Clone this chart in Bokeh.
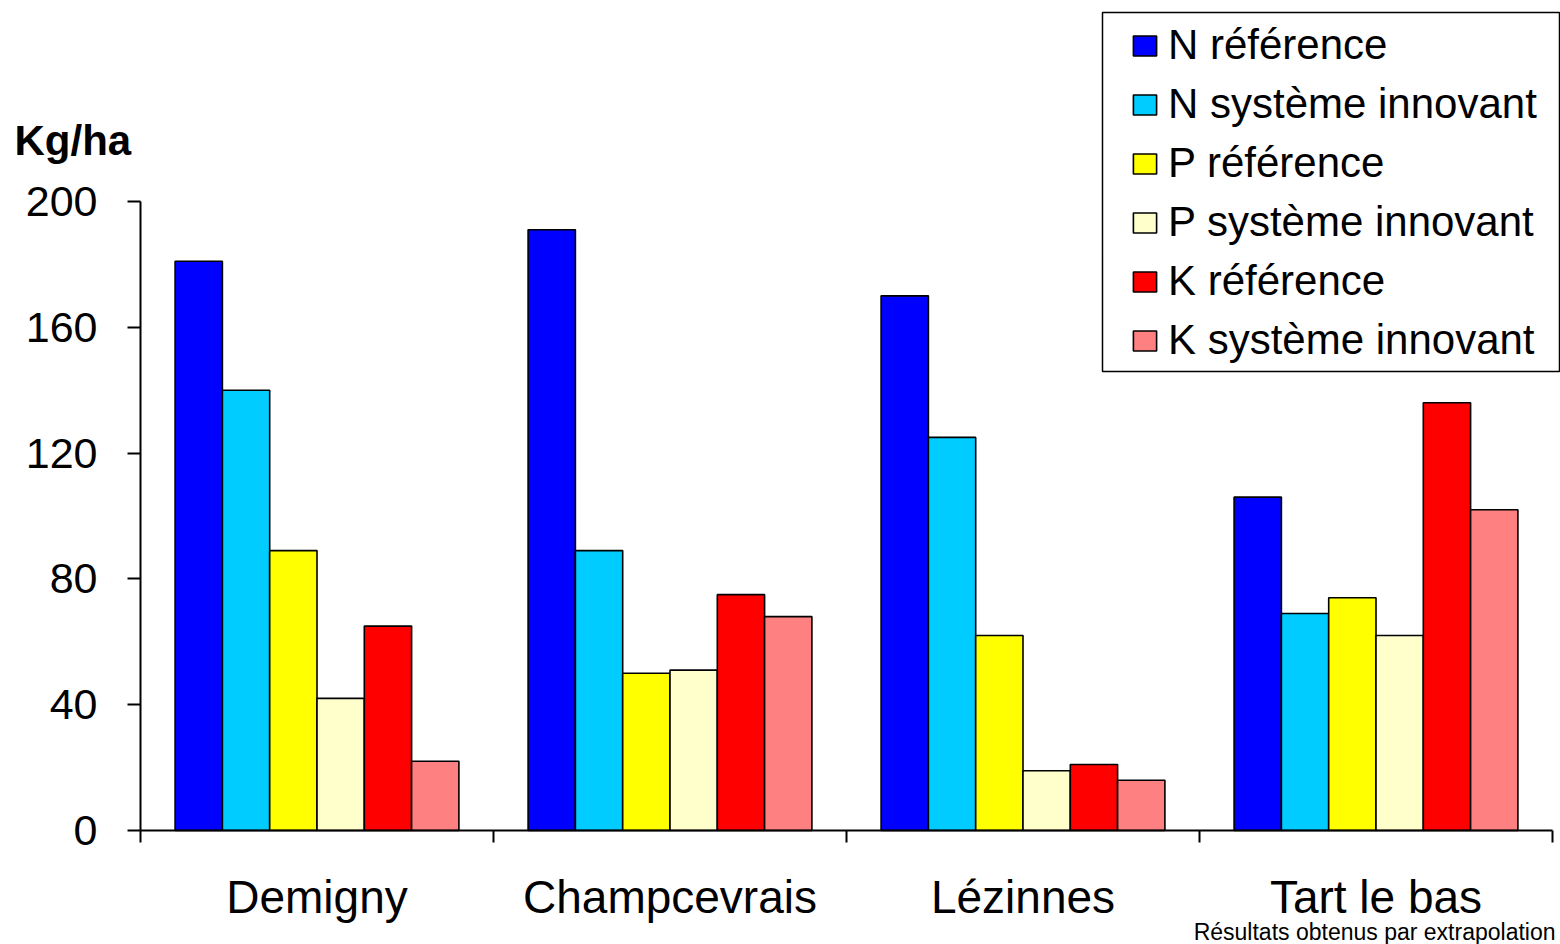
from bokeh.plotting import figure
from bokeh.models import Range1d, FixedTicker, Label, Legend, LegendItem, BoxAnnotation, ColumnDataSource
from bokeh.transform import dodge
from bokeh.embed import file_html
from bokeh.resources import INLINE

sites = ["Demigny", "Champcevrais", "Lézinnes", "Tart le bas"]
series_labels = ["N référence", "N système innovant", "P référence",
                 "P système innovant", "K référence", "K système innovant"]
n_ref = [181, 191, 170, 106]
n_inn = [140, 89, 125, 69]
p_ref = [89, 50, 62, 74]
p_inn = [42, 51, 19, 62]
k_ref = [65, 75, 21, 136]
k_inn = [22, 68, 16, 102]
colors = ["#0000FF", "#00CCFF", "#FFFF00", "#FFFFCC", "#FF0000", "#FF8080"]
y_ticks = [0, 40, 80, 120, 160, 200]
unit_label = "Kg/ha"
note = "Résultats obtenus par extrapolation"

FONT = "Liberation Sans"
series = [n_ref, n_inn, p_ref, p_inn, k_ref, k_inn]
keys = ["n_ref", "n_inn", "p_ref", "p_inn", "k_ref", "k_inn"]
centers = [i + 0.5 for i in range(len(sites))]
data = {"x": centers}
for k, s in zip(keys, series):
    data[k] = s
src = ColumnDataSource(data)

W, H = 1560, 944
# pixel geometry of the plotting area (axis corner at 140, 830; value 200 at y=201)
X0, Y0 = 140, 830
ppx = (1552 - 140) / 4.0
ppy = (830 - 201) / 200.0

def dx(px):
    return (px - X0) / ppx

def dy(py):
    return (Y0 - py) / ppy

p = figure(width=W, height=H,
           x_range=Range1d(dx(0), dx(W)), y_range=Range1d(dy(H), dy(0)),
           output_backend="svg", toolbar_location=None, title=None,
           min_border_left=0, min_border_right=0, min_border_top=0, min_border_bottom=0)
p.outline_line_color = None
p.xgrid.visible = False
p.ygrid.visible = False
p.background_fill_color = "white"
p.border_fill_color = "white"

bw = 0.134
renderers = []
for j, (k, c) in enumerate(zip(keys, colors)):
    r = p.vbar(x=dodge("x", (j - 2.5) * bw, range=p.x_range), top=k, width=bw, bottom=0,
               source=src, fill_color=c, line_color="black", line_width=1.6)
    renderers.append(r)

# Axes
ya = p.yaxis[0]
ya.fixed_location = 0
ya.ticker = FixedTicker(ticks=y_ticks, minor_ticks=[])
ya.bounds = (0, 200)
ya.axis_line_width = 2
ya.major_tick_line_width = 2
ya.major_tick_out = 13
ya.major_tick_in = 0
ya.minor_tick_out = 0
ya.minor_tick_in = 0
ya.major_label_standoff = 30
ya.major_label_text_font = FONT
ya.major_label_text_font_size = "43px"
ya.major_label_text_color = "black"

xa = p.xaxis[0]
xa.fixed_location = 0
xa.ticker = FixedTicker(ticks=centers, minor_ticks=[0, 1, 2, 3, 4])
xa.bounds = (0, 4)
xa.major_label_overrides = {c: s for c, s in zip(centers, sites)}
xa.axis_line_width = 2
xa.major_tick_out = 0
xa.major_tick_in = 0
xa.minor_tick_out = 12
xa.minor_tick_in = 0
xa.minor_tick_line_width = 2
xa.major_label_standoff = 28
xa.major_label_text_font = FONT
xa.major_label_text_font_size = "46px"
xa.major_label_text_color = "black"

p.add_layout(Label(x=dx(14), y=dy(140), text=unit_label,
                   text_font=FONT, text_font_size="42px", text_font_style="bold",
                   text_baseline="alphabetic", text_color="black"))
p.add_layout(Label(x=dx(1555), y=dy(931), text=note, text_align="right",
                   text_font=FONT, text_font_size="23px", text_baseline="alphabetic",
                   text_color="black"))

# Legend frame
box = BoxAnnotation(left=dx(1102), right=dx(1559), top=dy(12), bottom=dy(371),
                    fill_color="white", fill_alpha=1.0,
                    line_color="black", line_alpha=1.0, line_width=1.5)
p.add_layout(box)

row_h = 59
legend_top = 45 - row_h / 2
legend = Legend(items=[LegendItem(label=l, renderers=[r]) for l, r in zip(series_labels, renderers)],
                location=(1130, H - (legend_top + 6 * row_h)), orientation="vertical")
legend.border_line_alpha = 0
legend.background_fill_alpha = 0
legend.padding = 0
legend.spacing = 0
legend.margin = 0
legend.label_height = row_h
legend.glyph_height = 25
legend.glyph_width = 29
legend.label_standoff = 9
legend.label_text_font = FONT
legend.label_text_font_size = "42px"
legend.label_text_color = "black"
p.add_layout(legend, "center")

open("out.html", "w").write(file_html(p, INLINE))
